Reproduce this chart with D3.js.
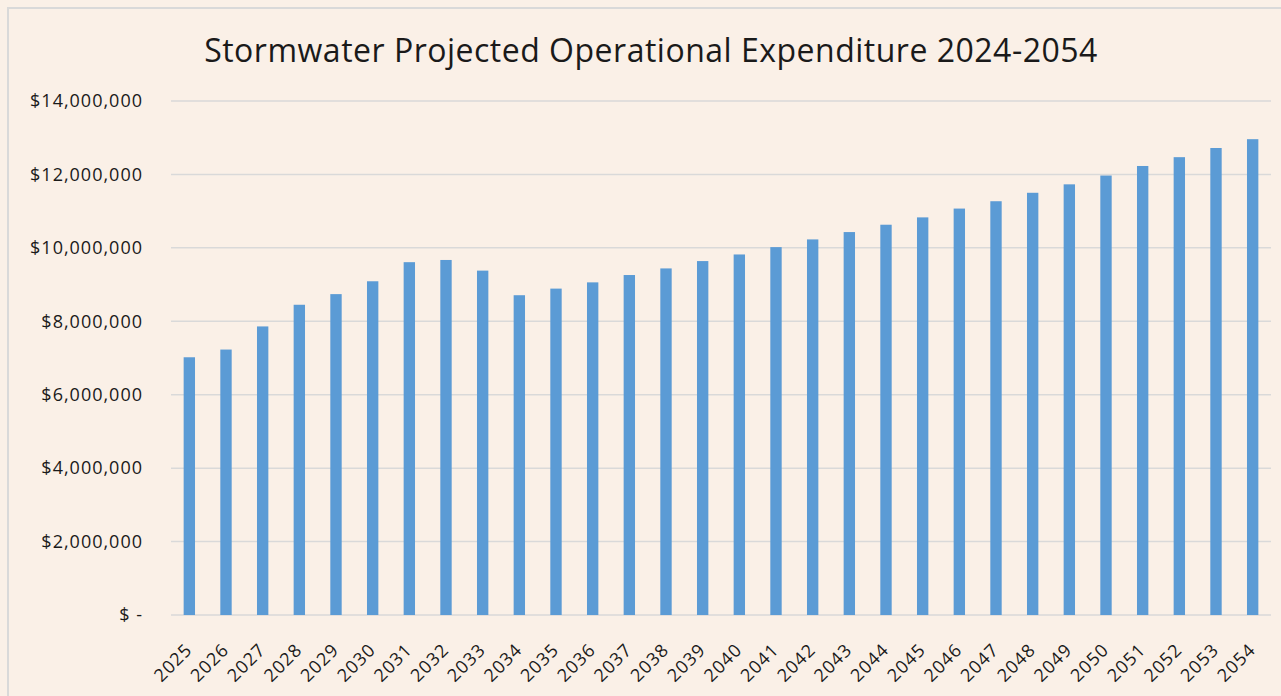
<!DOCTYPE html>
<html>
<head>
<meta charset="utf-8">
<script src="https://cdn.jsdelivr.net/npm/d3@7"></script>
<style>
  body { margin: 0; background: #faf0e7; }
  svg { display: block; }
</style>
</head>
<body>
<div id="chart"></div>
<script>
const titleText = "Stormwater Projected Operational Expenditure 2024-2054";

const years = ["2025", "2026", "2027", "2028", "2029", "2030", "2031", "2032", "2033", "2034",
  "2035", "2036", "2037", "2038", "2039", "2040", "2041", "2042", "2043", "2044",
  "2045", "2046", "2047", "2048", "2049", "2050", "2051", "2052", "2053", "2054"];

// dollars
const opex = [7020000, 7230000, 7860000, 8450000, 8740000, 9090000, 9610000, 9670000, 9380000, 8710000,
  8890000, 9060000, 9260000, 9440000, 9640000, 9820000, 10020000, 10230000, 10430000, 10630000,
  10830000, 11070000, 11270000, 11500000, 11730000, 11970000, 12230000, 12470000, 12720000, 12960000];

const yTicks = [0, 2000000, 4000000, 6000000, 8000000, 10000000, 12000000, 14000000];

const W = 1281, H = 696;
const margin = { top: 101, right: 10, bottom: 81, left: 171 };
const width = W - margin.left - margin.right,
  height = H - margin.top - margin.bottom;

const svg = d3.select("#chart")
  .append("svg")
  .attr("width", W)
  .attr("height", H);

svg.append("rect")
  .attr("width", W).attr("height", H)
  .attr("fill", "#faf0e7");

// chart area border (only top + left visible)
svg.append("path")
  .attr("d", `M8,${H} V8 H${W}`)
  .attr("fill", "none")
  .attr("stroke", "#d9d9d9")
  .attr("stroke-width", 2);

svg.append("text")
  .attr("x", 651)
  .attr("y", 62)
  .attr("text-anchor", "middle")
  .style("font-family", "'Open Sans', sans-serif")
  .style("font-size", "32px")
  .style("letter-spacing", "0.5px")
  .style("fill", "#1a1a1a")
  .text(titleText);

const g = svg.append("g")
  .attr("transform", `translate(${margin.left},${margin.top})`);

const x = d3.scaleBand()
  .domain(years)
  .range([0, width])
  .paddingInner(0.69)
  .paddingOuter(0.345);

const y = d3.scaleLinear()
  .domain([0, 14000000])
  .range([height, 0]);

const fmt = d => d === 0 ? "$ -" : "$" + d3.format(",")(d);

// gridlines
g.append("g")
  .selectAll("line")
  .data(yTicks)
  .join("line")
  .attr("x1", 0).attr("x2", width)
  .attr("y1", d => y(d)).attr("y2", d => y(d))
  .attr("stroke", "#d9d9d9")
  .attr("stroke-width", 1.5);

// y axis labels
const yAxis = g.append("g")
  .call(d3.axisLeft(y).tickValues(yTicks).tickFormat(fmt).tickSize(0).tickPadding(28));
yAxis.select(".domain").remove();
yAxis.selectAll("text")
  .style("font-family", "'Open Sans', sans-serif")
  .style("font-size", "18px")
  .style("letter-spacing", "1px")
  .style("fill", "#1a1a1a");

g.selectAll("rect.bar")
  .data(opex)
  .join("rect")
  .attr("class", "bar")
  .attr("x", (d, i) => x(years[i]))
  .attr("width", x.bandwidth())
  .attr("y", d => y(d))
  .attr("height", d => y(0) - y(d))
  .attr("fill", "#5b9bd5");

// x axis labels
const xAxis = g.append("g")
  .attr("transform", `translate(0,${height})`)
  .call(d3.axisBottom(x).tickSize(0));
xAxis.select(".domain").remove();
xAxis.selectAll("text")
  .style("font-family", "'Open Sans', sans-serif")
  .style("font-size", "18px")
  .style("letter-spacing", "1px")
  .style("fill", "#1a1a1a")
  .style("text-anchor", "end")
  .attr("x", 0)
  .attr("y", 0)
  .attr("dy", 0)
  .attr("transform", "translate(4,36) rotate(-45)");
</script>
</body>
</html>
